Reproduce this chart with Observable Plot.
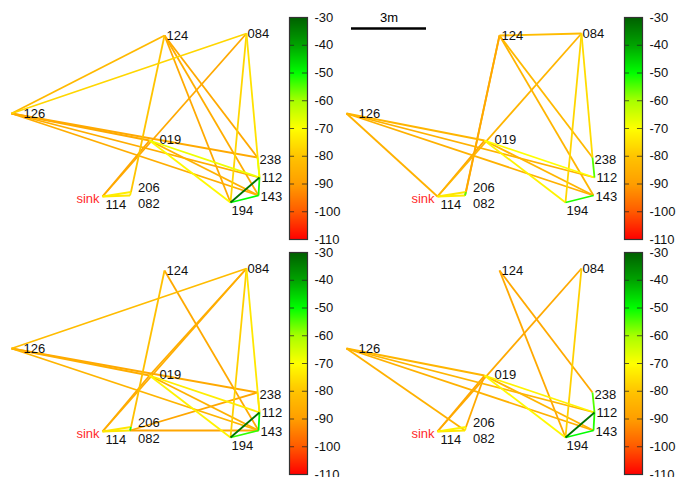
<!DOCTYPE html>
<html>
<head>
<meta charset="utf-8">
<script src="https://cdn.jsdelivr.net/npm/d3@7"></script>
<script src="https://cdn.jsdelivr.net/npm/@observablehq/plot@0.6"></script>
<style>
  html, body { margin: 0; padding: 0; background: #fff; overflow: hidden; }
  #root { position: relative; width: 677px; height: 477px; overflow: hidden; font-family: "Liberation Sans", Arial, sans-serif; }
  #root svg { position: absolute; background: none !important; overflow: visible; }
</style>
</head>
<body>
<div id="root"></div>
<script>
// ---- data ----
const nodeIds = ["126", "124", "084", "019", "238", "112", "143", "194", "114", "206", "082"];
const nodeX   = [0.04, 6.16, 9.44, 5.56, 9.88, 9.96, 9.92, 8.80, 3.68, 4.82, 4.78];   // metres
const nodeY   = [3.88, 7.00, 7.08, 2.80, 2.12, 1.32, 0.60, 0.32, 0.56, 0.74, 0.60];   // metres
const sinkNode = "114";
const scaleBarMetres = 3;
const scaleBarLabel = "3m";

// links: [from, to, RSSI dBm]
const edges1 = [
  ["126","124",-83], ["126","084",-77], ["126","019",-87], ["126","238",-87],
  ["126","112",-86], ["126","143",-86], ["124","206",-80], ["124","194",-87],
  ["124","238",-87], ["124","143",-86], ["084","114",-87], ["084","194",-77],
  ["084","112",-75], ["019","114",-88], ["019","112",-68], ["019","143",-85],
  ["019","194",-71], ["238","112",-68], ["114","206",-73], ["114","082",-74],
  ["206","082",-74], ["143","194",-50], ["112","143",-52], ["112","194",-33]
];
const edges2 = [
  ["124","084",-82], ["124","206",-88], ["124","082",-87], ["124","238",-83],
  ["124","143",-84], ["084","114",-84], ["084","194",-77], ["084","238",-76],
  ["126","019",-84], ["126","143",-85], ["126","112",-85], ["126","114",-85],
  ["019","112",-70], ["019","194",-72], ["019","143",-84], ["019","114",-88],
  ["114","206",-74], ["114","082",-73], ["238","112",-55], ["143","194",-52],
  ["206","082",-55]
];
const edges3 = [
  ["126","084",-82], ["126","238",-87], ["126","019",-86], ["126","143",-84],
  ["124","206",-81], ["124","143",-87], ["084","114",-86], ["084","019",-86],
  ["084","194",-78], ["084","112",-74], ["019","112",-73], ["019","143",-85],
  ["019","194",-72], ["019","114",-87], ["238","082",-88], ["082","143",-88],
  ["238","112",-74], ["114","206",-74], ["114","082",-74], ["206","082",-52],
  ["143","194",-53], ["112","143",-50], ["112","194",-33]
];
const edges4 = [
  ["124","194",-87], ["124","238",-87], ["084","114",-87], ["084","194",-78],
  ["126","019",-84], ["126","112",-84], ["126","143",-85], ["126","082",-85],
  ["019","112",-72], ["019","194",-71], ["019","143",-84], ["019","114",-88],
  ["019","206",-87], ["114","206",-72], ["114","082",-74], ["206","082",-74],
  ["238","112",-55], ["143","194",-50], ["112","143",-52], ["112","194",-33]
];

// colour bar
const cbStops  = [-110, -100, -90, -80, -70, -60, -50, -40, -30];
const cbColors = ["#ff0000", "#ff5a00", "#ff9e00", "#ffc400", "#ffff00", "#a8ff00", "#00ff00", "#00a400", "#006000"];
const cbTicks  = [-30, -40, -50, -60, -70, -80, -90, -100, -110];

// ---- build ----
const font = '"Liberation Sans", Arial, sans-serif';
const nodes = nodeIds.map((id, i) => ({id, x: nodeX[i], y: nodeY[i]}));
const pos = Object.fromEntries(nodes.map(n => [n.id, n]));
const colorScale = {type: "linear", domain: cbStops, range: cbColors, interpolate: "rgb"};

// label offsets in px (styling)
const labelOffset = {
  "126": [12, 0], "124": [2, 0], "084": [1, 0], "019": [10, -1],
  "238": [2, 2], "112": [2, 0], "143": [2, 1], "194": [1, 8],
  "114": [3, 8], "206": [7, -4], "082": [8, 8]
};

function graph(edges, withScaleBar) {
  const links = edges
    .map(([a, b, v]) => ({x1: pos[a].x, y1: pos[a].y, x2: pos[b].x, y2: pos[b].y, v}))
    .sort((p, q) => p.v - q.v);
  const marks = [
    Plot.link(links, {x1: "x1", y1: "y1", x2: "x2", y2: "y2", stroke: "v", strokeWidth: 1.8}),
    ...nodes.map(n => Plot.text([n], {
      x: "x", y: "y", text: "id", textAnchor: "start",
      dx: labelOffset[n.id][0], dy: labelOffset[n.id][1], fill: "#111", fontSize: 13
    })),
    Plot.text([pos[sinkNode]], {x: "x", y: "y", text: () => "sink", textAnchor: "end", dx: -3, dy: 2, fill: "#ff2a2a", fontSize: 13})
  ];
  if (withScaleBar) {
    marks.push(Plot.ruleY([7.28], {x1: 0.24, x2: 0.24 + scaleBarMetres, stroke: "#000", strokeWidth: 2.5}));
    marks.push(Plot.text([scaleBarLabel], {x: 0.24 + scaleBarMetres / 2, y: 7.28, dy: -11, text: d => d, fill: "#000", fontSize: 13}));
  }
  return Plot.plot({
    width: 335, height: 235, margin: 0,
    style: {fontFamily: font, background: "none"},
    x: {domain: [0, 12], range: [10, 310], axis: null},
    y: {domain: [0, 8.4], range: [210, 0], axis: null},
    color: colorScale,
    marks
  });
}

function colorbar() {
  return Plot.plot({
    width: 70, height: 250,
    marginLeft: 9, marginRight: 43, marginTop: 17, marginBottom: 11,
    style: {fontFamily: font, fontSize: "13px", background: "none"},
    x: {domain: [0, 1], axis: null},
    y: {domain: [-110, -30], axis: null},
    color: colorScale,
    marks: [
      Plot.raster({fill: (x, y) => y, x1: 0, x2: 1, y1: -110, y2: -30, imageRendering: "auto"}),
      Plot.ruleY(cbTicks.slice(1, -1), {x1: 0, x2: 0.28, stroke: "#222", strokeOpacity: 0.75}),
      Plot.ruleY(cbTicks.slice(1, -1), {x1: 0.72, x2: 1, stroke: "#222", strokeOpacity: 0.75}),
      Plot.frame({stroke: "#333", strokeWidth: 1.2}),
      Plot.axisY(cbTicks, {anchor: "right", tickSize: 0, tickPadding: 7, label: null, tickFormat: d => String(d), fill: "#111", fontSize: 13})
    ]
  });
}

const root = document.getElementById("root");
const panels = [
  {edges: edges1, left: 0,   top: 0,   bar: false},
  {edges: edges2, left: 335, top: 0,   bar: true},
  {edges: edges3, left: 0,   top: 235, bar: false},
  {edges: edges4, left: 335, top: 235, bar: false}
];
for (const p of panels) {
  const g = graph(p.edges, p.bar);
  g.style.left = p.left + "px"; g.style.top = p.top + "px";
  root.appendChild(g);
  const c = colorbar();
  c.style.left = (p.left + 280) + "px"; c.style.top = p.top + "px";
  root.appendChild(c);
}
</script>
</body>
</html>
